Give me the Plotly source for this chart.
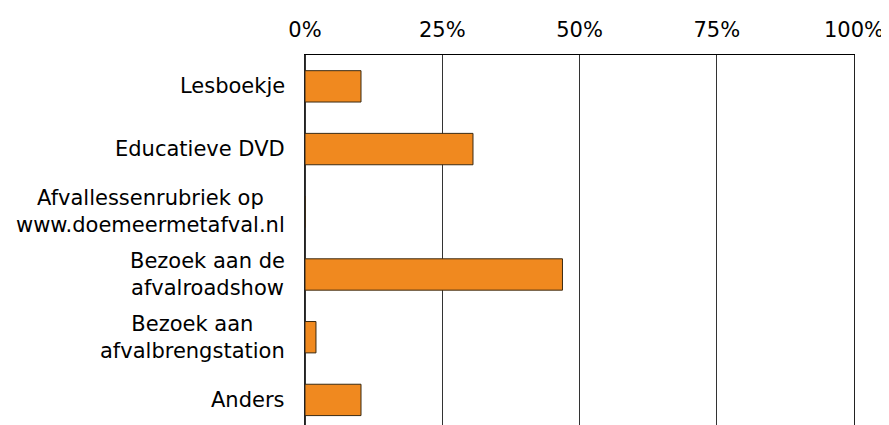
import plotly.graph_objects as go

# ── Data ──────────────────────────────────────────────────────────────────────
categories = [
    "Lesboekje",
    "Educatieve DVD",
    "Afvallessenrubriek op<br>www.doemeermetafval.nl",
    "Bezoek aan de<br>afvalroadshow",
    "Bezoek aan<br>afvalbrengstation",
    "Anders",
]
shares = [10.2, 30.6, 0.0, 46.9, 2.0, 10.2]
x_ticks = [0, 25, 50, 75, 100]
x_tick_labels = ["0%", "25%", "50%", "75%", "100%"]

ORANGE, OUTLINE, GRID = "#F0891F", "#3b2a12", "#333333"
FONT = "DejaVu Sans"
FS = 21

cat_idx = list(range(len(categories)))

fig = go.Figure(go.Bar(
    x=shares,
    y=cat_idx,
    orientation="h",
    width=0.5,
    marker=dict(color=ORANGE, line=dict(color=OUTLINE, width=1)),
))

# category labels as annotations so multi-line text is centred
for i, label in zip(cat_idx, categories):
    fig.add_annotation(
        x=0, xref="paper", y=i, yref="y",
        text=label, showarrow=False,
        xanchor="right", align="center", xshift=-18,
        font=dict(family=FONT, size=FS, color="#000"),
    )

# page body has an 8px margin, so margins are shifted by 8
fig.update_layout(
    width=889, height=425,
    margin=dict(l=297, r=43, t=47, b=8),
    plot_bgcolor="white", paper_bgcolor="white",
    showlegend=False,
    font=dict(family=FONT, size=FS, color="#000"),
    xaxis=dict(
        side="top", range=[0, 100],
        tickvals=x_ticks, ticktext=x_tick_labels,
        showgrid=True, gridcolor=GRID, gridwidth=1,
        zeroline=True, zerolinecolor=GRID, zerolinewidth=2,
        showline=True, linecolor="#000", linewidth=1,
        ticks="", ticklabelstandoff=9, automargin=False,
    ),
    yaxis=dict(
        range=[5.4, -0.5],
        showticklabels=False, showgrid=False, zeroline=False,
        showline=True, mirror=True, linecolor="#222", linewidth=1,
        ticks="",
    ),
)

fig.write_html("out.html")
